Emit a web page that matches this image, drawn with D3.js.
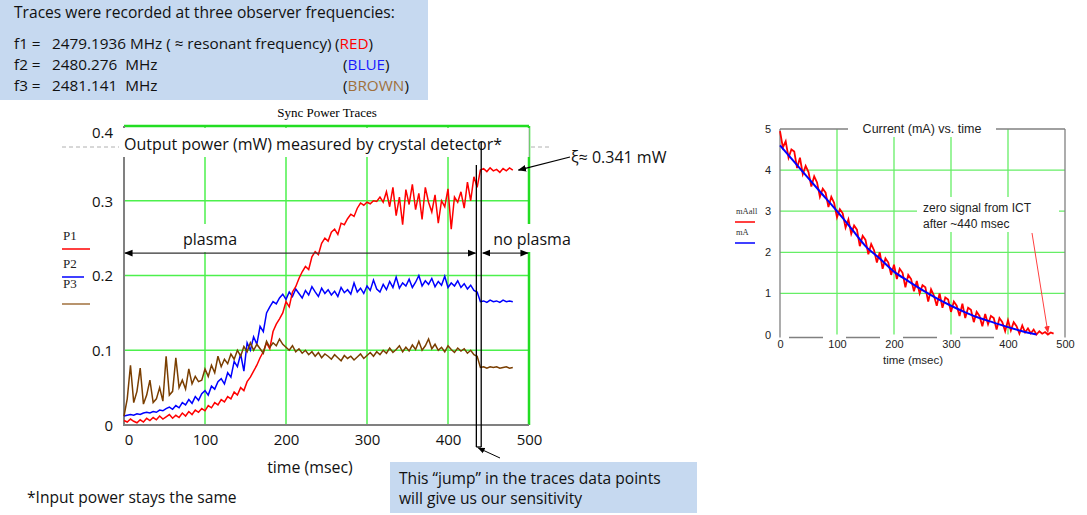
<!DOCTYPE html>
<html>
<head>
<meta charset="utf-8">
<script src="https://cdn.jsdelivr.net/npm/d3@7"></script>
<style>
  body { margin: 0; background: #fff; }
  svg { display: block; font-family: "Open Sans", Lato, sans-serif; }
</style>
</head>
<body>
<svg id="chart" width="1087" height="515"></svg>
<script>
// ---------------------------------------------------------------------------
// Data
// ---------------------------------------------------------------------------

// Sync power traces (mW), one sample every TRACE_STEP ms from 0 to 480 ms
const TRACE_STEP = 4;
const p1Red = [
  0.006, 0.004, 0.008, 0.005, 0.003, 0.007, 0.004, 0.009,
  0.006, 0.010, 0.007, 0.012, 0.008, 0.011, 0.014, 0.009,
  0.013, 0.010, 0.016, 0.012, 0.018, 0.014, 0.020, 0.017,
  0.022, 0.019, 0.026, 0.023, 0.030, 0.027, 0.034, 0.031,
  0.038, 0.035, 0.044, 0.040, 0.050, 0.046, 0.058, 0.064,
  0.072, 0.080, 0.090, 0.098, 0.110, 0.102, 0.125, 0.135,
  0.142, 0.150, 0.165, 0.158, 0.178, 0.185, 0.196, 0.205,
  0.212, 0.208, 0.225, 0.232, 0.228, 0.243, 0.250, 0.246,
  0.258, 0.262, 0.255, 0.270, 0.268, 0.276, 0.282, 0.279,
  0.290, 0.297, 0.294, 0.298, 0.296, 0.300, 0.299, 0.305,
  0.298, 0.312, 0.292, 0.318, 0.280, 0.305, 0.268, 0.315,
  0.295, 0.322, 0.288, 0.310, 0.275, 0.318, 0.298, 0.285,
  0.308, 0.270, 0.300, 0.292, 0.316, 0.262, 0.305, 0.298,
  0.312, 0.290, 0.325, 0.300, 0.332, 0.318,
  0.341, 0.343, 0.339, 0.344, 0.340, 0.342, 0.338, 0.343, 0.340, 0.344, 0.341
];
const p2Blue = [
  0.012, 0.013, 0.014, 0.013, 0.015, 0.014, 0.016, 0.017,
  0.016, 0.018, 0.017, 0.020, 0.019, 0.022, 0.024, 0.021,
  0.026, 0.023, 0.030, 0.027, 0.034, 0.029, 0.038, 0.033,
  0.042, 0.046, 0.040, 0.052, 0.048, 0.058, 0.062, 0.055,
  0.070, 0.064, 0.085, 0.078, 0.095, 0.072, 0.110, 0.100,
  0.118, 0.108, 0.132, 0.125, 0.150, 0.158, 0.165, 0.162,
  0.170, 0.175, 0.168, 0.178, 0.172, 0.182, 0.176, 0.170,
  0.180, 0.174, 0.185, 0.178, 0.172, 0.183, 0.176, 0.181,
  0.174, 0.179, 0.172, 0.184, 0.177, 0.181, 0.175, 0.190,
  0.178, 0.183, 0.176, 0.186, 0.180, 0.194, 0.182, 0.178,
  0.188, 0.181, 0.192, 0.184, 0.198, 0.183, 0.190, 0.186,
  0.195, 0.184, 0.191, 0.200, 0.186, 0.193, 0.188, 0.196,
  0.185, 0.192, 0.187, 0.199, 0.184, 0.190, 0.186, 0.193,
  0.184, 0.189, 0.182, 0.187, 0.180, 0.178,
  0.165, 0.166, 0.164, 0.167, 0.165, 0.166, 0.164, 0.167, 0.165, 0.166, 0.165
];
const p3Brown = [
  0.012, 0.035, 0.080, 0.030, 0.045, 0.076, 0.028, 0.040,
  0.060, 0.030, 0.035, 0.050, 0.032, 0.092, 0.040, 0.045,
  0.090, 0.050, 0.060, 0.048, 0.075, 0.055, 0.065, 0.058,
  0.060, 0.075, 0.065, 0.080, 0.070, 0.092, 0.078, 0.088,
  0.082, 0.095, 0.088, 0.100, 0.092, 0.105, 0.098, 0.110,
  0.100, 0.108, 0.102, 0.096, 0.112, 0.104, 0.110, 0.106,
  0.115, 0.108, 0.104, 0.100, 0.106, 0.098, 0.102, 0.096,
  0.100, 0.094, 0.098, 0.092, 0.097, 0.090, 0.095, 0.092,
  0.088, 0.094, 0.090, 0.086, 0.093, 0.089, 0.092, 0.087,
  0.091, 0.095, 0.089, 0.093, 0.097, 0.092, 0.098, 0.094,
  0.100, 0.096, 0.103, 0.097, 0.101, 0.106, 0.098, 0.104,
  0.099, 0.107, 0.101, 0.112, 0.100, 0.106, 0.115, 0.102,
  0.108, 0.100, 0.104, 0.098, 0.106, 0.101, 0.097, 0.103,
  0.099, 0.102, 0.096, 0.100, 0.094, 0.092,
  0.077, 0.078, 0.076, 0.078, 0.077, 0.078, 0.076, 0.077, 0.078, 0.076, 0.077
];

// ICT current (mA), raw samples every CURRENT_STEP ms, plus the smooth fit
const CURRENT_STEP = 5;
const mAall = [
  4.95, 4.55, 4.70, 4.30, 4.50, 4.45, 4.05, 4.30, 3.90, 4.10,
  3.95, 3.60, 3.85, 3.70, 3.35, 3.55, 3.45, 3.10, 3.35, 3.20,
  2.85, 3.05, 2.95, 2.60, 2.80, 2.45, 2.65, 2.55, 2.15, 2.40,
  2.30, 1.95, 2.20, 2.05, 1.75, 2.00, 1.60, 1.85, 1.75, 1.45,
  1.70, 1.35, 1.60, 1.50, 1.15, 1.45, 1.35, 1.05, 1.30, 1.00,
  1.20, 1.15, 0.80, 1.10, 0.95, 0.70, 1.00, 0.65, 0.90, 0.85,
  0.55, 0.80, 0.70, 0.45, 0.75, 0.40, 0.65, 0.60, 0.30, 0.55,
  0.45, 0.20, 0.50, 0.25, 0.45, 0.40, 0.12, 0.40, 0.30, 0.08,
  0.35, 0.10, 0.30, 0.20, 0.02, 0.22, 0.05, 0.15, 0.03, 0.12,
  0.00, 0.08, 0.02, 0.06, 0.00, 0.05, 0.02
];
const mAfitTimes = [0, 25, 50, 75, 100, 125, 150, 175, 200, 225, 250, 275, 300, 325, 350, 375, 400, 425, 450];
const mAfit = [4.60, 4.20, 3.80, 3.40, 3.00, 2.58, 2.15, 1.85, 1.53, 1.30, 1.08, 0.88, 0.70, 0.54, 0.40, 0.29, 0.18, 0.08, 0.00];

// Axis ticks
const powerTicks = [0, 0.1, 0.2, 0.3, 0.4];
const powerTickLabels = ['0', '0.1', '0.2', '0.3', '0.4'];
const timeTicks = [0, 100, 200, 300, 400, 500];
const currentTicks = [0, 1, 2, 3, 4, 5];

// Annotations (in data units)
const jumpTimes = [435, 441];   // the double vertical marker
const xiPower = 0.341;          // no-plasma level of P1

// ---------------------------------------------------------------------------
const COLORS = {
  red: '#ff0000', blue: '#0000ff', brown: '#7a3e00',
  grid: '#4cf04c', frame: '#808080', box: '#c6d9f0', ink: '#111'
};
const BODY = 15.6;   // slide text size

const svg = d3.select('#chart');

const defs = svg.append('defs');
function arrowMarker(id, color) {
  defs.append('marker')
    .attr('id', id)
    .attr('viewBox', '0 0 10 10')
    .attr('refX', 9).attr('refY', 5)
    .attr('markerWidth', 7).attr('markerHeight', 7)
    .attr('orient', 'auto-start-reverse')
    .append('path')
    .attr('d', 'M0,1 L10,5 L0,9 z')
    .attr('fill', color);
}
arrowMarker('arrow-black', '#000');
arrowMarker('arrow-red', '#ff3030');

// ---------------------------------------------------------------------------
// Top-left info box
// ---------------------------------------------------------------------------
svg.append('rect')
  .attr('x', 0).attr('y', 0).attr('width', 428).attr('height', 100)
  .attr('fill', COLORS.box);

const info = svg.append('g').attr('font-size', 15.3).attr('fill', COLORS.ink);
info.append('text').attr('x', 14).attr('y', 18).attr('font-size', BODY)
  .text('Traces were recorded at three observer frequencies:');

const freqRows = [
  { y: 49, label: 'f1 =', value: '2479.1936 MHz ( ≈ resonant frequency)', name: 'RED', color: '#ff0000', nx: 335 },
  { y: 70, label: 'f2 =', value: '2480.276  MHz', name: 'BLUE', color: '#1a1aff', nx: 343 },
  { y: 91, label: 'f3 =', value: '2481.141  MHz', name: 'BROWN', color: '#a0703c', nx: 343 }
];
freqRows.forEach(r => {
  info.append('text').attr('x', 14).attr('y', r.y).text(r.label);
  info.append('text').attr('x', 52).attr('y', r.y).attr('xml:space', 'preserve').text(r.value);
  const t = info.append('text').attr('x', r.nx).attr('y', r.y);
  t.append('tspan').text('(');
  t.append('tspan').attr('fill', r.color).text(r.name);
  t.append('tspan').text(')');
});

// ---------------------------------------------------------------------------
// Left chart: Sync Power Traces
// ---------------------------------------------------------------------------
const xL = d3.scaleLinear().domain([0, 500]).range([124, 529]);
const yL = d3.scaleLinear().domain([0, 0.4]).range([425, 126]);

const left = svg.append('g');

left.append('text')
  .attr('x', 327).attr('y', 117)
  .attr('text-anchor', 'middle')
  .attr('font-family', '"Liberation Serif", "DejaVu Serif", serif')
  .attr('font-size', 13)
  .text('Sync Power Traces');

// grid
left.selectAll('.vgrid')
  .data(timeTicks.filter(d => d > 0 && d < 500))
  .join('line')
  .attr('x1', d => xL(d)).attr('x2', d => xL(d))
  .attr('y1', yL(0.4)).attr('y2', yL(0))
  .attr('stroke', COLORS.grid).attr('stroke-width', 1.5);
left.selectAll('.hgrid')
  .data(powerTicks.filter(d => d > 0 && d < 0.4))
  .join('line')
  .attr('x1', xL(0)).attr('x2', xL(500))
  .attr('y1', d => yL(d)).attr('y2', d => yL(d))
  .attr('stroke', COLORS.grid).attr('stroke-width', 1.5);

// frame: green top/right, gray left/bottom
left.append('line')
  .attr('x1', xL(0)).attr('x2', xL(500)).attr('y1', yL(0.4)).attr('y2', yL(0.4))
  .attr('stroke', '#22dd22').attr('stroke-width', 2.5);
left.append('line')
  .attr('x1', xL(500)).attr('x2', xL(500)).attr('y1', yL(0.4)).attr('y2', yL(0))
  .attr('stroke', '#22dd22').attr('stroke-width', 2.5);
left.append('line')
  .attr('x1', xL(0)).attr('x2', xL(0)).attr('y1', yL(0.4)).attr('y2', yL(0) + 1)
  .attr('stroke', COLORS.frame).attr('stroke-width', 2);
left.append('line')
  .attr('x1', xL(0)).attr('x2', xL(500)).attr('y1', yL(0)).attr('y2', yL(0))
  .attr('stroke', COLORS.frame).attr('stroke-width', 2);

// traces
const traceLine = d3.line()
  .x((d, i) => xL(i * TRACE_STEP))
  .y(d => yL(d));

[[p2Blue, COLORS.blue], [p1Red, COLORS.red], [p3Brown, COLORS.brown]].forEach(([vals, color]) => {
  left.append('path')
    .datum(vals)
    .attr('fill', 'none')
    .attr('stroke', color)
    .attr('stroke-width', 1.5)
    .attr('d', traceLine);
});

// axes
const yAxisL = d3.axisLeft(yL).tickValues(powerTicks)
  .tickFormat((d, i) => powerTickLabels[i]).tickSize(0).tickPadding(11);
left.append('g')
  .attr('transform', `translate(${xL(0)},0)`)
  .call(yAxisL)
  .call(g => g.select('.domain').remove())
  .call(g => g.selectAll('text')
    .attr('font-family', '"Open Sans", sans-serif').attr('font-size', 15).attr('fill', COLORS.ink)
    .attr('dy', d => d === 0.4 ? '0.75em' : '0.35em'));

const xAxisL = d3.axisBottom(xL).tickValues(timeTicks).tickSize(0).tickPadding(9);
left.append('g')
  .attr('transform', `translate(0,${yL(0)})`)
  .call(xAxisL)
  .call(g => g.select('.domain').remove())
  .call(g => g.selectAll('text')
    .attr('font-family', '"Open Sans", sans-serif').attr('font-size', 15).attr('fill', COLORS.ink)
    .attr('dx', d => d === 0 ? '0.3em' : 0));

left.append('text')
  .attr('x', 310).attr('y', 473)
  .attr('text-anchor', 'middle').attr('font-size', BODY + 0.3).attr('fill', COLORS.ink)
  .text('time (msec)');

// dashed guide behind the title box
left.append('line')
  .attr('x1', 62).attr('x2', 550).attr('y1', 147).attr('y2', 147)
  .attr('stroke', '#b0b0b0').attr('stroke-dasharray', '4,3');

// "Output power" label box
left.append('rect')
  .attr('x', 119).attr('y', 128).attr('width', 410).attr('height', 29)
  .attr('fill', '#fff');
left.append('line')
  .attr('x1', 529).attr('x2', 529).attr('y1', 128).attr('y2', 157)
  .attr('stroke', '#bbb').attr('stroke-width', 1);
left.append('text')
  .attr('x', 124).attr('y', 150)
  .attr('font-size', 16).attr('fill', COLORS.ink)
  .text('Output power (mW) measured by crystal detector*');

// legend P1..P3
const legendL = [
  { name: 'P1', color: COLORS.red, ty: 240, ly: 249, w: 28 },
  { name: 'P2', color: COLORS.blue, ty: 268, ly: 277, w: 22 },
  { name: 'P3', color: '#a0703c', ty: 288, ly: 304, w: 28 }
];
legendL.forEach(d => {
  left.append('text')
    .attr('x', 63).attr('y', d.ty)
    .attr('font-family', '"Liberation Serif", "DejaVu Serif", serif')
    .attr('font-size', 13).attr('fill', '#222')
    .text(d.name);
  left.append('line')
    .attr('x1', 62).attr('x2', 62 + d.w).attr('y1', d.ly).attr('y2', d.ly)
    .attr('stroke', d.color).attr('stroke-width', 1.5);
});

// plasma / no plasma annotations
const plasmaY = 0.23;
left.append('rect').attr('x', 176).attr('y', 224).attr('width', 72).attr('height', 28).attr('fill', '#fff');
left.append('rect').attr('x', 488).attr('y', 224).attr('width', 90).attr('height', 28).attr('fill', '#fff');
left.append('text')
  .attr('x', 210).attr('y', 245).attr('text-anchor', 'middle')
  .attr('font-size', 16).attr('fill', COLORS.ink).text('plasma');
left.append('text')
  .attr('x', 532).attr('y', 245).attr('text-anchor', 'middle')
  .attr('font-size', 16).attr('fill', COLORS.ink).text('no plasma');

left.append('line')
  .attr('x1', xL(0) + 1).attr('x2', xL(434)).attr('y1', yL(plasmaY)).attr('y2', yL(plasmaY))
  .attr('stroke', '#333').attr('stroke-width', 1.2)
  .attr('marker-start', 'url(#arrow-black)').attr('marker-end', 'url(#arrow-black)');
left.append('line')
  .attr('x1', xL(443)).attr('x2', xL(500) - 1).attr('y1', yL(plasmaY)).attr('y2', yL(plasmaY))
  .attr('stroke', '#333').attr('stroke-width', 1.2)
  .attr('marker-start', 'url(#arrow-black)').attr('marker-end', 'url(#arrow-black)');

// jump marker
left.append('line')
  .attr('x1', xL(jumpTimes[0])).attr('x2', xL(jumpTimes[0]))
  .attr('y1', 165).attr('y2', 447)
  .attr('stroke', '#000').attr('stroke-width', 1.3);
left.append('line')
  .attr('x1', xL(jumpTimes[1])).attr('x2', xL(jumpTimes[1]))
  .attr('y1', 142).attr('y2', 447)
  .attr('stroke', '#000').attr('stroke-width', 1.3);
left.append('line')
  .attr('x1', xL(jumpTimes[0])).attr('x2', xL(jumpTimes[1]))
  .attr('y1', 447).attr('y2', 447)
  .attr('stroke', '#000').attr('stroke-width', 1.3);

// xi arrow + label
left.append('line')
  .attr('x1', 570).attr('y1', 157).attr('x2', xL(487)).attr('y2', yL(xiPower))
  .attr('stroke', '#000').attr('stroke-width', 1.2)
  .attr('marker-end', 'url(#arrow-black)');
left.append('text')
  .attr('x', 571).attr('y', 163)
  .attr('font-size', 16).attr('fill', COLORS.ink)
  .text('ξ≈ 0.341 mW');

// footnote
svg.append('text')
  .attr('x', 27).attr('y', 503)
  .attr('font-size', BODY).attr('fill', COLORS.ink)
  .text('*Input power stays the same');

// callout box
svg.append('rect')
  .attr('x', 390).attr('y', 462).attr('width', 307).attr('height', 51)
  .attr('fill', COLORS.box);
svg.append('line')
  .attr('x1', 500).attr('y1', 458).attr('x2', xL(jumpTimes[0]) + 2).attr('y2', 448)
  .attr('stroke', '#000').attr('stroke-width', 1)
  .attr('marker-end', 'url(#arrow-black)');
svg.append('text')
  .attr('x', 399).attr('y', 484)
  .attr('font-size', BODY).attr('fill', COLORS.ink)
  .text('This “jump” in the traces data points');
svg.append('text')
  .attr('x', 399).attr('y', 504)
  .attr('font-size', BODY).attr('fill', COLORS.ink)
  .text('will give us our sensitivity');

// ---------------------------------------------------------------------------
// Right chart: Current (mA) vs. time
// ---------------------------------------------------------------------------
const xR = d3.scaleLinear().domain([0, 500]).range([780, 1065]);
const yR = d3.scaleLinear().domain([0, 5]).range([334.5, 129]);
const right = svg.append('g').attr('font-family', '"Liberation Sans", Arial, sans-serif');

right.selectAll('.vgrid')
  .data(timeTicks.filter(d => d > 0 && d < 500))
  .join('line')
  .attr('x1', d => xR(d)).attr('x2', d => xR(d))
  .attr('y1', yR(5)).attr('y2', yR(0))
  .attr('stroke', '#66ee66').attr('stroke-width', 1.3);
right.selectAll('.hgrid')
  .data(currentTicks.filter(d => d > 0 && d < 5))
  .join('line')
  .attr('x1', xR(0)).attr('x2', xR(500))
  .attr('y1', d => yR(d)).attr('y2', d => yR(d))
  .attr('stroke', '#66ee66').attr('stroke-width', 1.3);

// frame
right.append('line')
  .attr('x1', xR(0)).attr('x2', xR(0)).attr('y1', yR(5)).attr('y2', yR(0) + 3)
  .attr('stroke', COLORS.frame).attr('stroke-width', 1.3);
right.append('line')
  .attr('x1', xR(500)).attr('x2', xR(500)).attr('y1', yR(5)).attr('y2', yR(0) + 3)
  .attr('stroke', COLORS.frame).attr('stroke-width', 1.3);
right.append('line')
  .attr('x1', xR(0)).attr('x2', xR(500)).attr('y1', yR(5)).attr('y2', yR(5))
  .attr('stroke', COLORS.frame).attr('stroke-width', 1.3);
right.selectAll('.bseg')
  .data([0, 100, 200, 300])
  .join('line')
  .attr('x1', d => xR(d) + 9).attr('x2', d => xR(d + 100) - 14)
  .attr('y1', yR(0) + 3).attr('y2', yR(0) + 3)
  .attr('stroke', COLORS.frame).attr('stroke-width', 1.3);

// title with background gap
right.append('rect')
  .attr('x', 848).attr('y', 121).attr('width', 148).attr('height', 16).attr('fill', '#fff');
right.append('text')
  .attr('x', 922).attr('y', 133).attr('text-anchor', 'middle')
  .attr('font-size', 12.5).attr('fill', '#222')
  .text('Current (mA) vs. time');

// note box
right.append('rect')
  .attr('x', 917).attr('y', 197).attr('width', 142).attr('height', 35).attr('fill', '#fff');
right.append('text')
  .attr('x', 923).attr('y', 212).attr('font-size', 12).attr('fill', '#222')
  .text('zero signal from ICT');
right.append('text')
  .attr('x', 923).attr('y', 228).attr('font-size', 12).attr('fill', '#222')
  .text('after ~440 msec');

// traces
const rawLine = d3.line()
  .x((d, i) => xR(i * CURRENT_STEP))
  .y(d => yR(d));
right.append('path')
  .datum(mAall)
  .attr('fill', 'none').attr('stroke', COLORS.red).attr('stroke-width', 1.8)
  .attr('d', rawLine);

const fitLine = d3.line()
  .x((d, i) => xR(mAfitTimes[i]))
  .y(d => yR(d))
  .curve(d3.curveMonotoneX);
right.append('path')
  .datum(mAfit)
  .attr('fill', 'none').attr('stroke', COLORS.blue).attr('stroke-width', 2)
  .attr('d', fitLine);

// arrow to the zero point
right.append('line')
  .attr('x1', 1032).attr('y1', 233).attr('x2', xR(470)).attr('y2', yR(0.05))
  .attr('stroke', '#ff4040').attr('stroke-width', 1)
  .attr('marker-end', 'url(#arrow-red)');

// axes
right.append('g')
  .attr('transform', `translate(${xR(0)},0)`)
  .call(d3.axisLeft(yR).tickValues(currentTicks).tickFormat(d3.format('d')).tickSize(0).tickPadding(9))
  .call(g => g.select('.domain').remove())
  .call(g => g.selectAll('text')
    .attr('font-family', '"Liberation Sans", Arial, sans-serif').attr('font-size', 11).attr('fill', '#222'));
right.append('g')
  .attr('transform', `translate(0,${yR(0)})`)
  .call(d3.axisBottom(xR).tickValues(timeTicks).tickFormat(d3.format('d')).tickSize(0).tickPadding(6))
  .call(g => g.select('.domain').remove())
  .call(g => g.selectAll('text')
    .attr('font-family', '"Liberation Sans", Arial, sans-serif').attr('font-size', 11).attr('fill', '#222'));
right.append('text')
  .attr('x', 913).attr('y', 364).attr('text-anchor', 'middle')
  .attr('font-size', 11.5).attr('fill', '#222')
  .text('time (msec)');

// legend
const legendR = [
  { name: 'mAall', color: COLORS.red, ty: 214, ly: 222 },
  { name: 'mA', color: COLORS.blue, ty: 235, ly: 243 }
];
legendR.forEach(d => {
  right.append('text')
    .attr('x', 736).attr('y', d.ty)
    .attr('font-family', '"Liberation Serif", "DejaVu Serif", serif')
    .attr('font-size', 8.5).attr('fill', '#333')
    .text(d.name);
  right.append('line')
    .attr('x1', 735).attr('x2', 755).attr('y1', d.ly).attr('y2', d.ly)
    .attr('stroke', d.color).attr('stroke-width', 1.5);
});
</script>
</body>
</html>
